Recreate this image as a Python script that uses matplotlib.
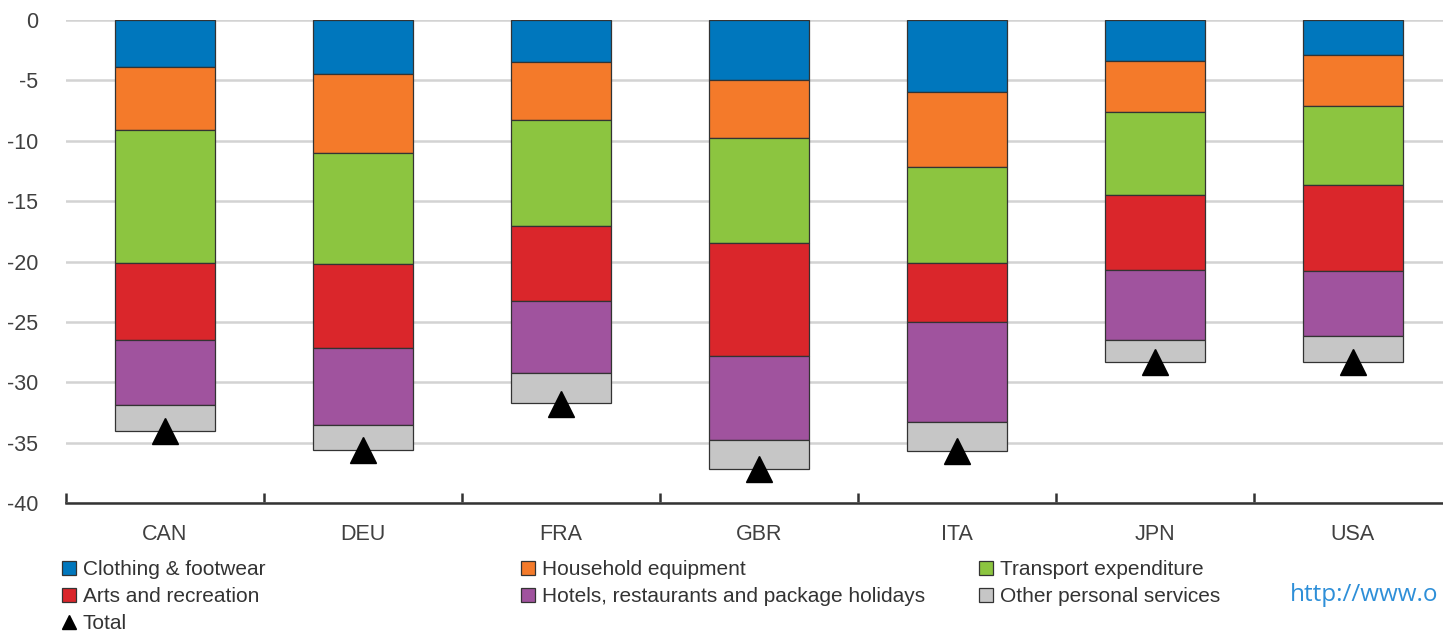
import matplotlib
matplotlib.use("Agg")
import matplotlib.pyplot as plt
from matplotlib.patches import Patch
from matplotlib.lines import Line2D
import numpy as np

countries = ["CAN", "DEU", "FRA", "GBR", "ITA", "JPN", "USA"]
series_names = ["Clothing & footwear", "Household equipment", "Transport expenditure",
                "Arts and recreation", "Hotels, restaurants and package holidays",
                "Other personal services"]
clothing = [-3.9, -4.5, -3.5, -5.0, -6.0, -3.4, -2.9]
household = [-5.2, -6.5, -4.8, -4.8, -6.2, -4.2, -4.2]
transport = [-11.0, -9.2, -8.8, -8.7, -7.9, -6.9, -6.6]
arts = [-6.4, -7.0, -6.2, -9.3, -4.9, -6.2, -7.1]
hotels = [-5.4, -6.3, -5.9, -7.0, -8.3, -5.8, -5.4]
other = [-2.1, -2.1, -2.5, -2.4, -2.4, -1.8, -2.1]
total = [-34.0, -35.6, -31.8, -37.2, -35.7, -28.3, -28.3]
yticks = [0, -5, -10, -15, -20, -25, -30, -35, -40]

colors = ["#0077BD", "#F47A2A", "#8CC540", "#DA262B", "#A0539E", "#C6C6C6"]
series = [clothing, household, transport, arts, hotels, other]

plt.rcParams['font.family'] = ['Liberation Sans', 'DejaVu Sans']

fig = plt.figure(figsize=(14.43, 6.33), dpi=100)
ax = fig.add_axes([66/1443, 1 - 503/633, (1452 - 66)/1443, (503 - 20)/633])

x = np.arange(len(countries))
bottom = np.zeros(len(countries))
for vals, col, name in zip(series, colors, series_names):
    v = np.array(vals)
    ax.bar(x, v, bottom=bottom, width=0.505, color=col, edgecolor="#333333",
           linewidth=0.9, zorder=3, label=name)
    bottom = bottom + v

ax.plot(x, total, linestyle="none", marker="^", markersize=19, color="black", zorder=5)

ax.set_xlim(-0.5, len(countries) - 0.5)
ax.set_ylim(-40, 0)
ax.set_yticks(yticks)
ax.set_yticklabels([str(t) for t in yticks])
ax.yaxis.grid(True, color="#D3D3D3", linewidth=1.8, zorder=0)
ax.set_axisbelow(True)
for s in ["left", "right", "top"]:
    ax.spines[s].set_visible(False)
ax.spines["bottom"].set_color("#333333")
ax.spines["bottom"].set_linewidth(1.8)
ax.tick_params(axis="y", length=0, labelsize=15.5, labelcolor="#404040", pad=20)
ax.set_xticks(x)
ax.set_xticklabels(countries)
ax.tick_params(axis="x", length=0, labelsize=15.5, labelcolor="#404040", pad=15)
ax.set_xticks(np.arange(-0.5, len(countries), 1.0), minor=True)
ax.tick_params(axis="x", which="minor", length=7, width=1.8, color="#333333", direction="in")

def sq(c):
    return Patch(facecolor=c, edgecolor="#333333", linewidth=0.9)

tri = Line2D([], [], linestyle="none", marker="^", markersize=10, color="black")

cols = [
    ([sq(colors[0]), sq(colors[3]), tri], [series_names[0], series_names[3], "Total"], 62),
    ([sq(colors[1]), sq(colors[4])], [series_names[1], series_names[4]], 521),
    ([sq(colors[2]), sq(colors[5])], [series_names[2], series_names[5]], 979),
]
for handles, labels, px in cols:
    leg = fig.legend(handles, labels, loc="upper left",
                     bbox_to_anchor=(px/1443, 1 - 560/633), frameon=False,
                     fontsize=15, handlelength=0.65, handleheight=0.65,
                     handletextpad=0.35, labelspacing=0.38, borderpad=0, borderaxespad=0)
    for t in leg.get_texts():
        t.set_color("#333333")

fig.text(1290/1443, 1 - 595/633, "http://www.o", color="#2E8FD8", fontsize=17.5,
         family=["Open Sans", "DejaVu Sans"], va="center", ha="left")

fig.savefig("out.png", dpi=100)
